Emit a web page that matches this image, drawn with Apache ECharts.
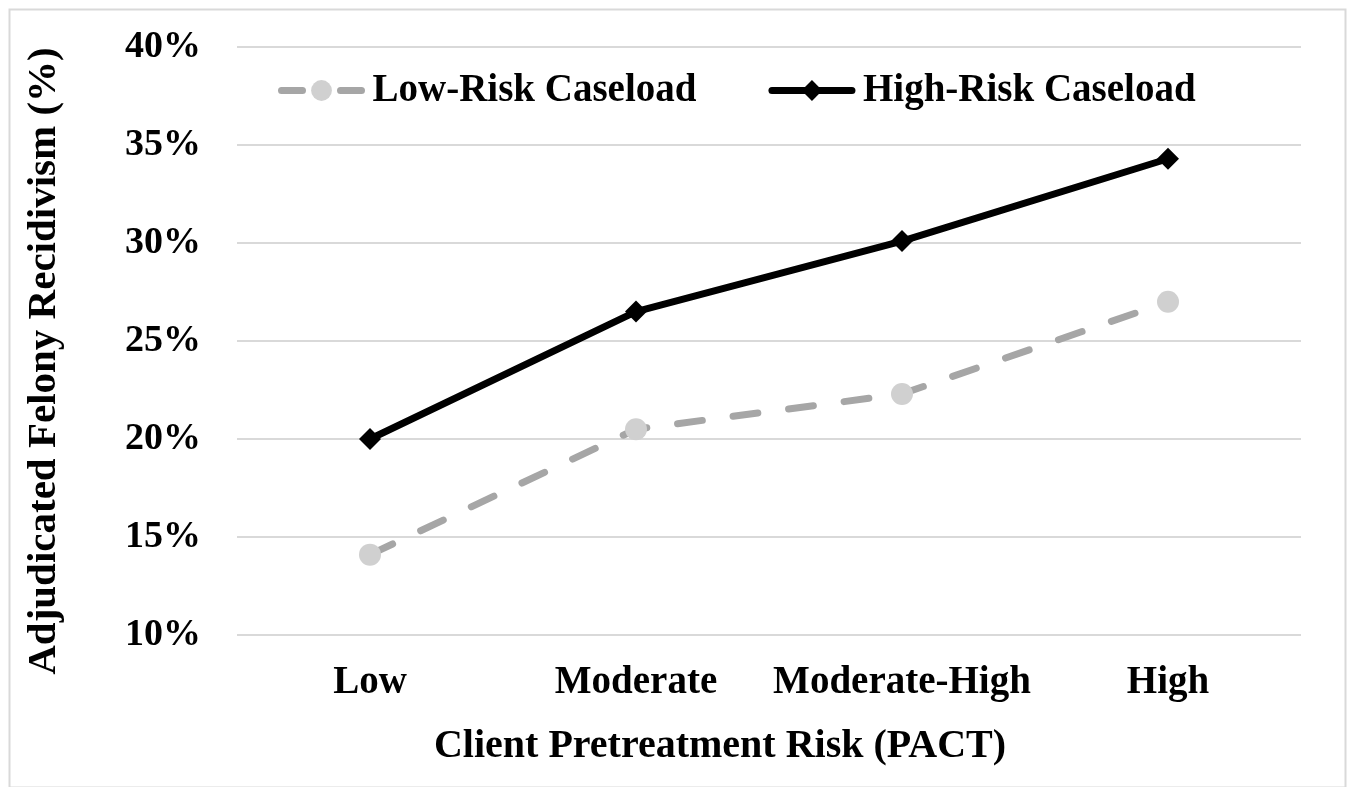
<!DOCTYPE html>
<html>
<head>
<meta charset="utf-8">
<script src="https://cdn.jsdelivr.net/npm/echarts@6/dist/echarts.min.js"></script>
<style>
html,body{margin:0;padding:0;background:#fff;}
#chart{width:1352px;height:787px;}
</style>
</head>
<body>
<div id="chart"></div>
<script>
const categories = ['Low', 'Moderate', 'Moderate-High', 'High'];
const lowRiskCaseload = [14.1, 20.5, 22.3, 27.0];
const highRiskCaseload = [20.0, 26.5, 30.1, 34.3];
const seriesNames = ['Low-Risk Caseload', 'High-Risk Caseload'];
const yTicks = { min: 10, max: 40, interval: 5 };

const FONT = '"Liberation Serif", "Times New Roman", serif';
const chart = echarts.init(document.getElementById('chart'));
chart.setOption({
  animation: false,
  backgroundColor: '#fff',
  textStyle: { fontFamily: FONT },
  graphic: [{
    type: 'rect', left: 7, top: 7, z: -1,
    shape: { width: 1336, height: 778 },
    style: { fill: 'none', stroke: '#d9d9d9', lineWidth: 2 }
  }],
  grid: { left: 237, right: 51, top: 47, bottom: 152, containLabel: false },
  legend: {
    left: 273, top: 66,
    itemWidth: 80, itemHeight: 26, itemGap: 72,
    textStyle: { fontFamily: FONT, fontWeight: 'bold', fontSize: 39, color: '#000', padding: [0, 0, 0, 6] },
    data: [
      { name: seriesNames[0], lineStyle: { width: 7, type: [21, 38], cap: 'round', color: '#a6a6a6' },
        itemStyle: { color: '#d0d0d0' } },
      { name: seriesNames[1], lineStyle: { width: 7, type: 'solid', cap: 'round', color: '#000' },
        itemStyle: { color: '#000' } }
    ]
  },
  xAxis: {
    type: 'category',
    data: categories,
    boundaryGap: true,
    axisLine: { show: false },
    axisTick: { show: false },
    axisLabel: { interval: 0, fontFamily: FONT, fontWeight: 'bold', fontSize: 39, color: '#000', margin: 28 },
    name: 'Client Pretreatment Risk (PACT)',
    nameLocation: 'middle',
    nameGap: 92,
    nameTextStyle: { fontFamily: FONT, fontWeight: 'bold', fontSize: 40, color: '#000', padding: [0, 98, 0, 0] }
  },
  yAxis: {
    type: 'value',
    min: yTicks.min, max: yTicks.max, interval: yTicks.interval,
    axisLine: { show: false },
    axisTick: { show: false },
    splitLine: { lineStyle: { color: '#d9d9d9', width: 2 } },
    axisLabel: { fontFamily: FONT, fontWeight: 'bold', fontSize: 38, color: '#000', margin: 36,
      formatter: v => v + '%' },
    name: 'Adjudicated Felony Recidivism (%)',
    nameLocation: 'middle',
    nameGap: 172,
    nameRotate: 90,
    nameTextStyle: { fontFamily: FONT, fontWeight: 'bold', fontSize: 41, color: '#000', padding: [0, 40, 0, 0] }
  },
  series: [
    {
      name: seriesNames[0],
      type: 'line',
      data: lowRiskCaseload,
      symbol: 'circle',
      symbolSize: 22,
      itemStyle: { color: '#d0d0d0' },
      lineStyle: { color: '#a6a6a6', width: 7, type: [25, 31], cap: 'round' },
      z: 2
    },
    {
      name: seriesNames[1],
      type: 'line',
      data: highRiskCaseload,
      symbol: 'diamond',
      symbolSize: 22,
      itemStyle: { color: '#000' },
      lineStyle: { color: '#000', width: 7 },
      z: 3
    }
  ]
});
</script>
</body>
</html>
